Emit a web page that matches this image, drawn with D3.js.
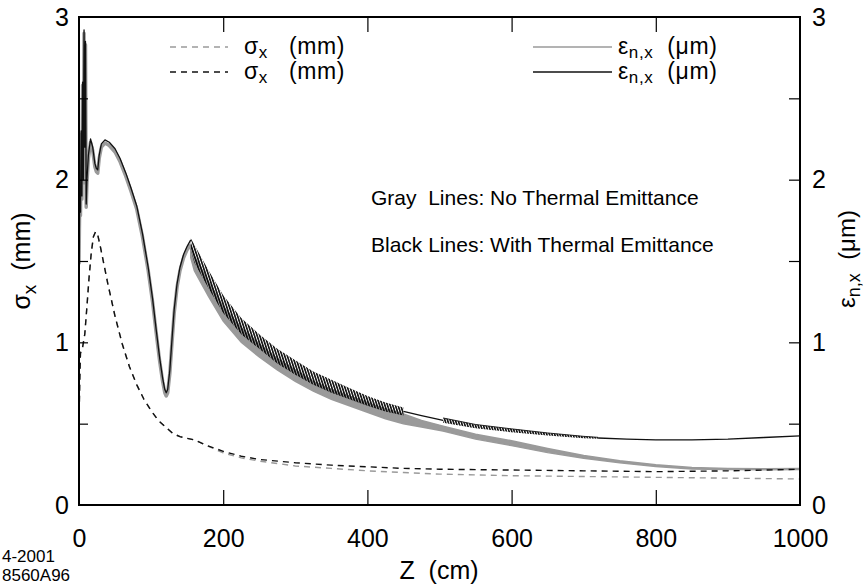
<!DOCTYPE html>
<html>
<head>
<meta charset="utf-8">
<script src="https://cdn.jsdelivr.net/npm/d3@7"></script>
<style>
  html, body { margin: 0; padding: 0; background: #fff; }
  svg { display: block; font-family: "Liberation Sans", Arial, Helvetica, sans-serif; }
</style>
</head>
<body>
<svg id="chart" width="864" height="588"></svg>
<script>
// ---- data -------------------------------------------------------------
const xTicks = [0, 200, 400, 600, 800, 1000];
const yTicks = [0, 0.5, 1, 1.5, 2, 2.5, 3];

// Normalized emittance, with thermal emittance (black), smooth stretches
const emitThermalZ = [0, 1, 2, 3, 4, 5, 6, 7, 8, 9, 10, 11, 13, 16, 19, 22, 24, 26, 28, 31, 36, 42, 50, 57, 65, 72, 80, 88, 96, 102, 107, 112, 116, 119, 121, 123, 126, 129, 132, 136, 140, 145, 150, 155];
const emitThermalV = [1.5, 1.9, 1.8, 2.3, 1.9, 2.6, 2.0, 2.92, 2.2, 2.85, 1.85, 2.0, 2.15, 2.25, 2.2, 2.1, 2.07, 2.06, 2.15, 2.22, 2.245, 2.23, 2.19, 2.13, 2.04, 1.95, 1.84, 1.67, 1.46, 1.27, 1.08, 0.90, 0.78, 0.71, 0.69, 0.71, 0.83, 1.02, 1.20, 1.36, 1.46, 1.54, 1.59, 1.63];
// oscillating stretch 155-450 cm: upper / lower envelope of the ripple
const rippleAZ = [155, 160, 170, 180, 200, 225, 250, 275, 300, 325, 350, 375, 400, 425, 450];
const rippleAHi = [1.64, 1.60, 1.52, 1.44, 1.29, 1.15, 1.05, 0.96, 0.89, 0.82, 0.77, 0.72, 0.67, 0.63, 0.60];
const rippleALo = [1.57, 1.49, 1.41, 1.33, 1.18, 1.05, 0.96, 0.87, 0.80, 0.74, 0.69, 0.65, 0.61, 0.575, 0.55];
// smooth bridge 450-505 cm
const bridgeZ = [450, 475, 505];
const bridgeV = [0.575, 0.55, 0.52];
// second, weaker ripple 505-720 cm
const rippleBZ = [505, 550, 600, 650, 700, 720];
const rippleBHi = [0.535, 0.495, 0.468, 0.443, 0.422, 0.416];
const rippleBLo = [0.505, 0.472, 0.447, 0.427, 0.41, 0.408];
// smooth tail 720-1000 cm
const tailZ = [720, 760, 800, 850, 900, 950, 1000];
const tailV = [0.412, 0.405, 0.40, 0.40, 0.405, 0.415, 0.425];

// Normalized emittance, no thermal emittance (gray)
const emitColdZ = emitThermalZ;
const emitColdV = [1.48, 1.88, 1.78, 2.28, 1.88, 2.58, 1.98, 2.9, 2.18, 2.83, 1.83, 1.98, 2.13, 2.23, 2.18, 2.08, 2.05, 2.04, 2.13, 2.2, 2.225, 2.21, 2.17, 2.11, 2.02, 1.93, 1.82, 1.65, 1.44, 1.25, 1.06, 0.88, 0.76, 0.69, 0.67, 0.69, 0.81, 1.0, 1.18, 1.34, 1.44, 1.52, 1.57, 1.60];
const coldBandZ = [155, 160, 170, 180, 200, 225, 250, 275, 300, 325, 350, 375, 400, 425, 450, 475, 505, 550, 600, 650, 700, 750, 800, 850, 900, 950, 1000];
const coldBandHi = [1.60, 1.53, 1.45, 1.37, 1.22, 1.09, 0.99, 0.90, 0.83, 0.76, 0.71, 0.67, 0.63, 0.59, 0.56, 0.52, 0.485, 0.435, 0.395, 0.348, 0.305, 0.272, 0.248, 0.231, 0.225, 0.223, 0.225];
const coldBandLo = [1.52, 1.44, 1.36, 1.28, 1.13, 1.00, 0.91, 0.83, 0.76, 0.70, 0.65, 0.61, 0.57, 0.53, 0.50, 0.48, 0.455, 0.405, 0.365, 0.322, 0.287, 0.26, 0.237, 0.222, 0.218, 0.217, 0.219];

// Beam size sigma_x (mm)
const sigmaZ = [0, 1, 2, 3, 5, 8, 11, 14, 17, 20, 23, 26, 30, 35, 40, 50, 60, 70, 80, 90, 100, 110, 120, 130, 140, 150, 160, 175, 200, 225, 250, 300, 350, 400, 450, 500, 600, 700, 800, 900, 1000];
const sigmaThermal = [0.50, 0.75, 0.93, 0.95, 0.97, 1.05, 1.22, 1.40, 1.55, 1.65, 1.68, 1.66, 1.58, 1.47, 1.36, 1.16, 0.99, 0.85, 0.74, 0.65, 0.58, 0.52, 0.48, 0.44, 0.42, 0.41, 0.40, 0.37, 0.33, 0.30, 0.28, 0.26, 0.245, 0.235, 0.225, 0.22, 0.215, 0.21, 0.205, 0.21, 0.22];
const sigmaCold = [0.50, 0.75, 0.93, 0.95, 0.97, 1.05, 1.22, 1.40, 1.55, 1.65, 1.68, 1.66, 1.58, 1.47, 1.36, 1.16, 0.99, 0.85, 0.74, 0.65, 0.58, 0.52, 0.48, 0.44, 0.42, 0.41, 0.40, 0.37, 0.32, 0.29, 0.27, 0.24, 0.225, 0.21, 0.2, 0.19, 0.18, 0.175, 0.17, 0.165, 0.16];

// ---- layout -----------------------------------------------------------
const svg = d3.select("#chart");
const x = d3.scaleLinear().domain([0, 1000]).range([79, 800]);
const y = d3.scaleLinear().domain([0, 3]).range([505, 17]);
const yR = d3.scaleLinear().domain([0, 3]).range([505, 17]);

const zip = (zs, vs) => zs.map((z, i) => [z, vs[i]]);
const band = (zs, hi, lo) => zs.map((z, i) => ({ z, hi: hi[i], lo: lo[i] }));
const line = d3.line().x(d => x(d[0])).y(d => y(d[1]));
const area = d3.area().x(d => x(d.z)).y0(d => y(d.lo)).y1(d => y(d.hi));

const defs = svg.append("defs");
defs.append("clipPath").attr("id", "plotClip")
  .append("rect").attr("x", 79).attr("y", 17).attr("width", 721).attr("height", 488);
const hatch = defs.append("pattern").attr("id", "ripple")
  .attr("patternUnits", "userSpaceOnUse").attr("width", 2.5).attr("height", 10)
  .attr("patternTransform", "rotate(-18)");
hatch.append("line").attr("x1", 0.8).attr("y1", 0).attr("x2", 0.8).attr("y2", 10)
  .attr("stroke", "#000").attr("stroke-width", 1.5);

const plot = svg.append("g").attr("clip-path", "url(#plotClip)");

// gray: no thermal emittance
plot.append("path").datum(zip(emitColdZ, emitColdV))
  .attr("d", line).attr("fill", "none").attr("stroke", "#9a9a9a").attr("stroke-width", 3.5)
  .attr("stroke-linejoin", "round");
plot.append("path").datum(band(coldBandZ, coldBandHi, coldBandLo))
  .attr("d", area).attr("fill", "#9a9a9a").attr("stroke", "#9a9a9a").attr("stroke-width", 1.5);

// sigma_x, dashed
plot.append("path").datum(zip(sigmaZ, sigmaCold))
  .attr("d", line).attr("fill", "none").attr("stroke", "#9a9a9a").attr("stroke-width", 1.4)
  .attr("stroke-dasharray", "6,5");
plot.append("path").datum(zip(sigmaZ, sigmaThermal))
  .attr("d", line).attr("fill", "none").attr("stroke", "#111").attr("stroke-width", 1.4)
  .attr("stroke-dasharray", "6,5");

// black: with thermal emittance
plot.append("path").datum(zip(emitThermalZ, emitThermalV))
  .attr("d", line).attr("fill", "none").attr("stroke", "#111").attr("stroke-width", 1.3)
  .attr("stroke-linejoin", "round");
[band(rippleAZ, rippleAHi, rippleALo), band(rippleBZ, rippleBHi, rippleBLo)].forEach(b => {
  plot.append("path").datum(b).attr("d", area).attr("fill", "url(#ripple)").attr("stroke", "none");
});
plot.append("path").datum(zip(rippleBZ, rippleBHi)).attr("d", line).attr("fill", "none")
  .attr("stroke", "#111").attr("stroke-width", 0.9);
[zip(bridgeZ, bridgeV), zip(tailZ, tailV)].forEach(seg => {
  plot.append("path").datum(seg).attr("d", line).attr("fill", "none")
    .attr("stroke", "#111").attr("stroke-width", 1.3);
});

// ---- axes -------------------------------------------------------------
const styleAxis = g => {
  g.select(".domain").remove();
  g.selectAll(".tick line").attr("stroke", "#000").attr("stroke-width", 1.2);
  g.selectAll("text").attr("fill", "#000").attr("font-size", 25)
    .attr("font-family", "Liberation Sans, Arial, sans-serif");
};
svg.append("g").attr("transform", "translate(0,505)")
  .call(d3.axisBottom(x).tickValues(xTicks).tickSize(-15).tickPadding(24).tickFormat(d3.format("d")))
  .call(styleAxis)
  .call(g => g.selectAll(".tick line").filter(d => d === 0 || d === 1000).remove());
svg.append("g").attr("transform", "translate(0,17)")
  .call(d3.axisTop(x).tickValues(xTicks.slice(1, -1)).tickSize(-15).tickFormat(""))
  .call(styleAxis);
svg.append("g").attr("transform", "translate(79,0)")
  .call(d3.axisLeft(y).tickValues(yTicks).tickSize(-9).tickPadding(10)
    .tickFormat(d => Number.isInteger(d) ? d : ""))
  .call(styleAxis)
  .call(g => g.selectAll(".tick line").filter(d => d === 0 || d === 3).remove());
svg.append("g").attr("transform", "translate(800,0)")
  .call(d3.axisRight(yR).tickValues(yTicks).tickSize(-11).tickPadding(12)
    .tickFormat(d => Number.isInteger(d) ? d : ""))
  .call(styleAxis)
  .call(g => g.selectAll(".tick line").filter(d => d === 0 || d === 3).remove());

// frame
svg.append("rect").attr("x", 79).attr("y", 17).attr("width", 721).attr("height", 488)
  .attr("fill", "none").attr("stroke", "#000").attr("stroke-width", 2);

// ---- titles -----------------------------------------------------------
svg.append("text").attr("x", 439).attr("y", 579).attr("text-anchor", "middle")
  .attr("font-size", 25).attr("xml:space", "preserve").text("Z  (cm)");

const yTitle = svg.append("text").attr("transform", "translate(30,261) rotate(-90)")
  .attr("text-anchor", "middle").attr("font-size", 25).attr("xml:space", "preserve");
yTitle.append("tspan").text("σ");
yTitle.append("tspan").attr("font-size", 19).attr("dy", 6).text("x");
yTitle.append("tspan").attr("dy", -6).text("  (mm)");

const rTitle = svg.append("text").attr("transform", "translate(855,259) rotate(-90)")
  .attr("text-anchor", "middle").attr("font-size", 24).attr("xml:space", "preserve");
rTitle.append("tspan").text("ε");
rTitle.append("tspan").attr("font-size", 18).attr("dy", 5).text("n,x");
rTitle.append("tspan").attr("dy", -5).text("  (μm)");

// ---- legend -----------------------------------------------------------
const legendRows = [
  { x0: 170, x1: 228, gap: 16, ty: 47, color: "#9a9a9a", dash: "6,5", sym: "σ", sub: "x", unit: "   (mm)" },
  { x0: 170, x1: 228, gap: 16, ty: 72, color: "#111", dash: "6,5", sym: "σ", sub: "x", unit: "   (mm)" },
  { x0: 533, x1: 612, gap: 6, ty: 47, color: "#9a9a9a", dash: null, sym: "ε", sub: "n,x", unit: "  (μm)" },
  { x0: 533, x1: 612, gap: 6, ty: 72, color: "#111", dash: null, sym: "ε", sub: "n,x", unit: "  (μm)" }
];
legendRows.forEach(r => {
  svg.append("line").attr("x1", r.x0).attr("x2", r.x1).attr("y1", r.ty).attr("y2", r.ty)
    .attr("stroke", r.color).attr("stroke-width", 1.3)
    .attr("stroke-dasharray", r.dash);
  const t = svg.append("text").attr("x", r.x1 + r.gap).attr("y", r.ty + 7)
    .attr("font-size", 23).attr("letter-spacing", 0.6).attr("xml:space", "preserve");
  t.append("tspan").text(r.sym);
  t.append("tspan").attr("font-size", 17).attr("dy", 4).text(r.sub);
  t.append("tspan").attr("dy", -4).text(r.unit);
});

// ---- notes ------------------------------------------------------------
svg.append("text").attr("x", 371).attr("y", 205).attr("font-size", 21).attr("xml:space", "preserve")
  .text("Gray  Lines: No Thermal Emittance");
svg.append("text").attr("x", 371).attr("y", 252).attr("font-size", 21)
  .text("Black Lines: With Thermal Emittance");
svg.append("text").attr("x", 2).attr("y", 562).attr("font-size", 17).text("4-2001");
svg.append("text").attr("x", 2).attr("y", 581).attr("font-size", 17).text("8560A96");
</script>
</body>
</html>
